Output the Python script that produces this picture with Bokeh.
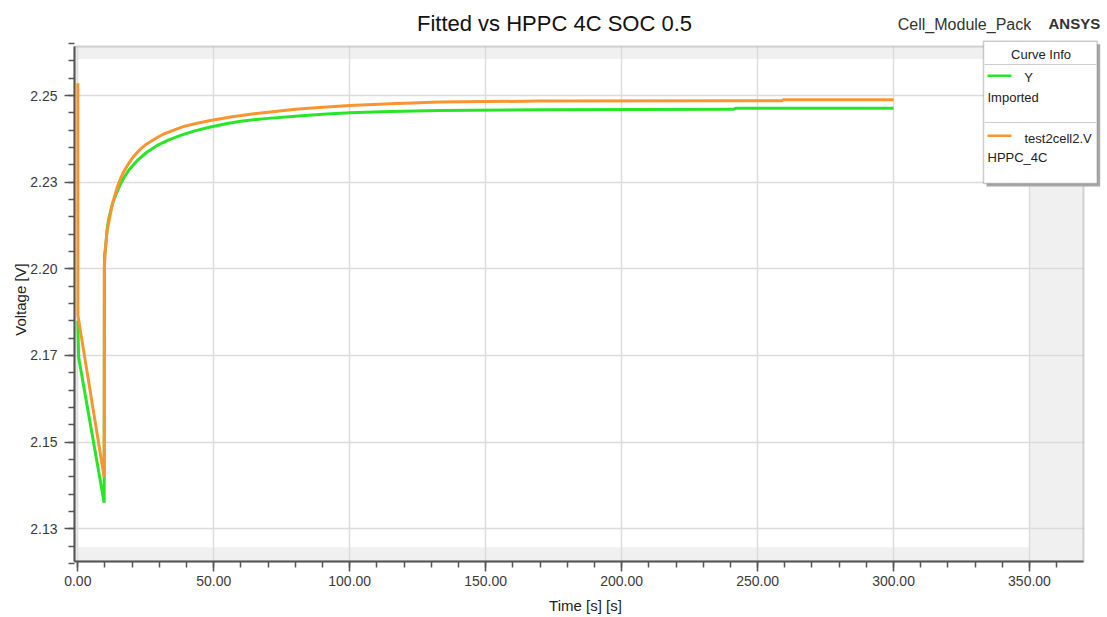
import math
from bokeh.plotting import figure
from bokeh.models import Range1d, FixedTicker, BoxAnnotation, Label
from bokeh.embed import file_html
from bokeh.resources import INLINE

# ---------------- data ----------------
y_time = [0, 0.3, 9.7, 9.8, 10.2, 10.8, 11.4, 12.65, 13.9, 15.7, 16.9, 18.8, 21.8,
          25.5, 29.2, 33.5, 37.8, 43.0, 48.8, 55, 59.9, 70, 80, 90, 100, 115, 133,
          170, 241, 242, 300]
y_volt = [2.1850, 2.1745, 2.1325, 2.2040, 2.2060, 2.2115, 2.2145, 2.2185, 2.2212,
          2.2245, 2.2262, 2.2285, 2.2312, 2.2337, 2.2356, 2.2372, 2.2385, 2.2398,
          2.2409, 2.2419, 2.2426, 2.2434, 2.2440, 2.2446, 2.2450, 2.2454, 2.2457,
          2.2459, 2.2460, 2.2463, 2.2463]

hppc_time = [0, 0.05, 9.7, 9.75, 10.2, 10.8, 12.0, 12.65, 14.5, 15.7, 16.9, 18.8,
             20.6, 23.1, 25.5, 28.6, 31.6, 35.3, 39.0, 43.9, 48.8, 56.2, 63.5, 70,
             80, 90, 100, 115, 133, 170, 259, 259.5, 300]
hppc_volt = [2.2535, 2.1865, 2.1399, 2.2000, 2.2062, 2.2111, 2.2159, 2.2185, 2.2235,
             2.2260, 2.2280, 2.2305, 2.2325, 2.2346, 2.2361, 2.2376, 2.2389, 2.2400,
             2.2411, 2.2420, 2.2428, 2.2438, 2.2446, 2.2452, 2.2460, 2.2466, 2.2471,
             2.2476, 2.2481, 2.2484, 2.2485, 2.2488, 2.2488]

x_ticks = [0, 50, 100, 150, 200, 250, 300, 350]
x_tick_labels = ["0.00", "50.00", "100.00", "150.00", "200.00", "250.00", "300.00", "350.00"]
y_ticks = [2.125, 2.15, 2.175, 2.2, 2.225, 2.25]
y_tick_labels = ["2.13", "2.15", "2.17", "2.20", "2.23", "2.25"]

series_names = ["Y", "test2cell2.V"]
series_sub = ["Imported", "HPPC_4C"]

# ---------------- layout (canvas pixels -> data) ----------------
W, H = 1107, 617
PXU = (1029 - 77.3) / 350.0      # px per second
PYU = (528.3 - 95.0) / 0.125     # px per volt
XF0 = -77.3 / PXU
XF1 = XF0 + W / PXU
YF1 = 2.25 + 95.0 / PYU
YF0 = YF1 - H / PYU


def dx(cx):
    return XF0 + cx / PXU


def dy(cy):
    return YF1 - cy / PYU


VX0, VX1, VY0, VY1 = dx(74), dx(1083), dy(561), dy(46)

GREEN = "#27e627"
ORANGE = "#f9952f"
FONT = "Liberation Sans"

p = figure(width=W, height=H, x_range=Range1d(XF0, XF1), y_range=Range1d(YF0, YF1),
           output_backend="svg", toolbar_location=None,
           min_border_left=0, min_border_right=0, min_border_top=0, min_border_bottom=0)
p.background_fill_color = "white"
p.border_fill_color = "white"
p.outline_line_alpha = 0

# gray out-of-range bands
band_kw = dict(fill_color="#f0f0f0", fill_alpha=1, line_alpha=0, level="image")
p.add_layout(BoxAnnotation(left=VX0, right=VX1, bottom=dy(58.5), top=VY1, **band_kw))
p.add_layout(BoxAnnotation(left=VX0, right=VX1, bottom=VY0, top=dy(546.7), **band_kw))
p.add_layout(BoxAnnotation(left=350, right=VX1, bottom=VY0, top=VY1, **band_kw))
p.add_layout(BoxAnnotation(left=VX0, right=-0.2, bottom=VY0, top=VY1, **band_kw))

# axes (fixed inside the big frame)
xminor = [10 * i for i in range(0, 37)]
yminor = [round(2.115 + 0.005 * i, 3) for i in range(0, 31)]
p.xaxis.ticker = FixedTicker(ticks=x_ticks, minor_ticks=xminor)
p.yaxis.ticker = FixedTicker(ticks=y_ticks, minor_ticks=yminor)
p.xaxis.major_label_overrides = dict(zip(x_ticks, x_tick_labels))
p.yaxis.major_label_overrides = dict(zip(y_ticks, y_tick_labels))
p.xaxis.fixed_location = VY0
p.yaxis.fixed_location = VX0
p.xaxis.bounds = (VX0, VX1)
p.yaxis.bounds = (VY0, VY1)

for ax in (p.xaxis[0], p.yaxis[0]):
    ax.axis_line_color = "#555555"
    ax.axis_line_width = 2
    ax.major_tick_line_color = "#555555"
    ax.major_tick_line_width = 1.5
    ax.minor_tick_line_color = "#555555"
    ax.minor_tick_line_width = 1.5
    ax.major_tick_in = 0
    ax.major_tick_out = 10
    ax.minor_tick_in = 0
    ax.minor_tick_out = 6
    ax.major_label_text_font = FONT
    ax.major_label_text_font_size = "14px"
    ax.major_label_text_color = "#3a3a3a"
p.xaxis.major_label_standoff = 4
p.yaxis.major_label_standoff = 7

p.xgrid.ticker = FixedTicker(ticks=x_ticks)
p.ygrid.ticker = FixedTicker(ticks=y_ticks)
for g in (p.xgrid[0], p.ygrid[0]):
    g.grid_line_color = "#dcdcdc"
    g.grid_line_width = 1.5

# white covers outside the visible plot area (hide grid overflow)
cov = dict(fill_color="white", fill_alpha=1, line_alpha=0, level="underlay")
p.add_layout(BoxAnnotation(right=VX0, **cov))
p.add_layout(BoxAnnotation(left=VX1, **cov))
p.add_layout(BoxAnnotation(bottom=VY1, **cov))
p.add_layout(BoxAnnotation(top=VY0, **cov))
# visible plot outline
p.add_layout(BoxAnnotation(left=VX0, right=VX1, bottom=VY0, top=VY1, fill_alpha=0,
                           line_color="#707070", line_width=2, level="underlay"))

# data lines
p.line(y_time, y_volt, line_color=GREEN, line_width=3)
p.line(hppc_time, hppc_volt, line_color=ORANGE, line_width=3)

# texts
txt = dict(x_units="data", y_units="data", text_font=FONT, text_baseline="middle")
p.add_layout(Label(x=dx(554), y=dy(23), text="Fitted vs HPPC 4C SOC 0.5",
                   text_align="center", text_font_size="22px", text_color="#111111", **txt))
p.add_layout(Label(x=dx(964), y=dy(23.5), text="Cell_Module_Pack",
                   text_align="center", text_font_size="16px", text_color="#333333", **txt))
p.add_layout(Label(x=dx(1048), y=dy(22.5), text="ANSYS", text_align="left",
                   text_font_size="15px", text_font_style="bold", text_color="#333333", **txt))
p.add_layout(Label(x=dx(585), y=dy(605), text="Time [s] [s]", text_align="center",
                   text_font_size="15px", text_color="#222222", **txt))
p.add_layout(Label(x=dx(20), y=dy(299), text="Voltage [V]", text_align="center",
                   angle=math.pi / 2, text_font_size="15px", text_color="#222222", **txt))

# legend ("Curve Info")
p.add_layout(BoxAnnotation(left=dx(986), right=dx(1099.7), top=dy(43.7), bottom=dy(186),
                           fill_color="#a8a8a8", fill_alpha=1, line_alpha=0))
p.add_layout(BoxAnnotation(left=dx(983), right=dx(1096.7), top=dy(40.7), bottom=dy(183),
                           fill_color="white", fill_alpha=1, line_color="#555555",
                           line_width=1.5))
p.add_layout(BoxAnnotation(left=dx(984), right=dx(1096), top=dy(63.5), bottom=dy(64.5),
                           fill_color="#cccccc", fill_alpha=1, line_alpha=0))
p.add_layout(BoxAnnotation(left=dx(984), right=dx(1096), top=dy(121.5), bottom=dy(122.5),
                           fill_color="#cccccc", fill_alpha=1, line_alpha=0))
p.add_layout(BoxAnnotation(left=dx(987), right=dx(1011), top=dy(74), bottom=dy(76.5),
                           fill_color=GREEN, fill_alpha=1, line_alpha=0))
p.add_layout(BoxAnnotation(left=dx(987), right=dx(1011), top=dy(134), bottom=dy(136.5),
                           fill_color=ORANGE, fill_alpha=1, line_alpha=0))

leg = dict(text_font_size="13px", text_color="#222222", **txt)
p.add_layout(Label(x=dx(1040.5), y=dy(53.5), text="Curve Info", text_align="center", **leg))
p.add_layout(Label(x=dx(1028), y=dy(77), text=series_names[0], text_align="center", **leg))
p.add_layout(Label(x=dx(987), y=dy(97), text=series_sub[0], text_align="left", **leg))
p.add_layout(Label(x=dx(1024), y=dy(138), text=series_names[1], text_align="left", **leg))
p.add_layout(Label(x=dx(987), y=dy(156.5), text=series_sub[1], text_align="left", **leg))

open("out.html", "w").write(file_html(p, INLINE))
